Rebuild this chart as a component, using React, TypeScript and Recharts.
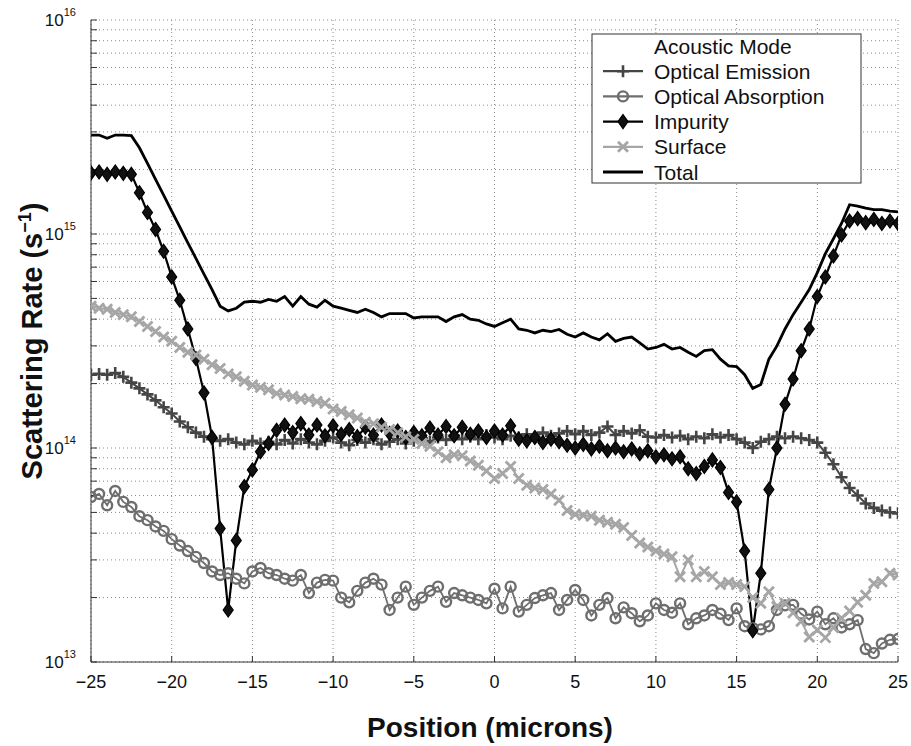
import { LineChart, Line, XAxis, YAxis, CartesianGrid } from 'recharts';

const FONT = '"Liberation Sans", Arial, Helvetica, sans-serif';

// positions along the device, microns (0.5 micron grid)
const positions = Array.from({ length: 101 }, (_, i) => -25 + i * 0.5);

const opticalEmission = [
  2.2e14, 2.22e14, 2.2e14, 2.24e14, 2.15e14, 2.02e14, 1.9e14, 1.78e14, 1.67e14, 1.55e14,
  1.45e14, 1.33e14, 1.25e14, 1.18e14, 1.13e14, 1.1e14, 1.08e14, 1.1e14, 1.06e14, 1.04e14,
  1.08e14, 1.05e14, 1.07e14, 1.04e14, 1.09e14, 1.05e14, 1.1e14, 1.06e14, 1.04e14, 1.08e14,
  1.12e14, 1.06e14, 1.03e14, 1.09e14, 1.06e14, 1.1e14, 1.04e14, 1.07e14, 1.1e14, 1.05e14,
  1.08e14, 1.11e14, 1.07e14, 1.12e14, 1.09e14, 1.14e14, 1.1e14, 1.13e14, 1.1e14, 1.15e14,
  1.12e14, 1.1e14, 1.14e14, 1.12e14, 1.16e14, 1.12e14, 1.18e14, 1.14e14, 1.17e14, 1.2e14,
  1.16e14, 1.2e14, 1.15e14, 1.18e14, 1.26e14, 1.15e14, 1.2e14, 1.17e14, 1.21e14, 1.13e14,
  1.12e14, 1.15e14, 1.12e14, 1.14e14, 1.1e14, 1.13e14, 1.11e14, 1.16e14, 1.12e14, 1.15e14,
  1.1e14, 1.06e14, 1.0e14, 1.07e14, 1.1e14, 1.13e14, 1.11e14, 1.13e14, 1.11e14, 1.09e14,
  1.06e14, 9.5e13, 8.4e13, 7.3e13, 6.5e13, 6.0e13, 5.5e13, 5.25e13, 5.1e13, 5.0e13,
  4.95e13,
];

const opticalAbsorption = [
  5.9e13, 6.1e13, 5.4e13, 6.3e13, 5.6e13, 5.3e13, 4.8e13, 4.6e13, 4.3e13, 4.1e13,
  3.75e13, 3.5e13, 3.3e13, 3.1e13, 2.9e13, 2.65e13, 2.55e13, 2.6e13, 2.45e13, 2.33e13,
  2.65e13, 2.75e13, 2.6e13, 2.55e13, 2.45e13, 2.4e13, 2.55e13, 2.1e13, 2.35e13, 2.42e13,
  2.4e13, 2.0e13, 1.9e13, 2.15e13, 2.35e13, 2.45e13, 2.3e13, 1.75e13, 2.0e13, 2.25e13,
  1.85e13, 2.0e13, 2.15e13, 2.25e13, 1.91e13, 2.1e13, 2.05e13, 2.0e13, 1.95e13, 1.88e13,
  2.2e13, 1.78e13, 2.25e13, 1.72e13, 1.85e13, 1.99e13, 2.05e13, 2.1e13, 1.75e13, 1.95e13,
  2.17e13, 1.95e13, 1.65e13, 1.85e13, 1.99e13, 1.6e13, 1.8e13, 1.69e13, 1.55e13, 1.65e13,
  1.88e13, 1.75e13, 1.7e13, 1.88e13, 1.5e13, 1.6e13, 1.65e13, 1.75e13, 1.68e13, 1.57e13,
  1.78e13, 1.47e13, 1.44e13, 1.42e13, 1.47e13, 1.75e13, 1.84e13, 1.85e13, 1.68e13, 1.58e13,
  1.72e13, 1.5e13, 1.6e13, 1.45e13, 1.5e13, 1.57e13, 1.15e13, 1.1e13, 1.22e13, 1.27e13,
  1.28e13,
];

const impurity = [
  1.93e15, 1.95e15, 1.9e15, 1.95e15, 1.92e15, 1.9e15, 1.56e15, 1.26e15, 1.05e15, 8.3e14,
  6.3e14, 4.9e14, 3.6e14, 2.62e14, 1.81e14, 1.12e14, 4.2e13, 1.75e13, 3.7e13, 6.6e13,
  7.9e13, 9.6e13, 1.05e14, 1.21e14, 1.28e14, 1.18e14, 1.3e14, 1.15e14, 1.28e14, 1.14e14,
  1.27e14, 1.16e14, 1.22e14, 1.13e14, 1.25e14, 1.15e14, 1.28e14, 1.17e14, 1.2e14, 1.12e14,
  1.18e14, 1.14e14, 1.24e14, 1.15e14, 1.26e14, 1.14e14, 1.25e14, 1.16e14, 1.2e14, 1.12e14,
  1.2e14, 1.15e14, 1.27e14, 1.1e14, 1.08e14, 1.12e14, 1.06e14, 1.1e14, 1.07e14, 1.03e14,
  1.0e14, 1.04e14, 9.9e13, 1.02e14, 9.7e13, 1.0e14, 9.6e13, 9.9e13, 9.4e13, 9.7e13,
  9.1e13, 9.3e13, 8.9e13, 9.1e13, 8.0e13, 7.6e13, 8.2e13, 8.8e13, 8.1e13, 6.2e13,
  5.6e13, 3.3e13, 1.4e13, 2.6e13, 6.4e13, 1.0e14, 1.6e14, 2.1e14, 2.85e14, 3.6e14,
  5.1e14, 6.3e14, 7.9e14, 9.9e14, 1.15e15, 1.18e15, 1.13e15, 1.17e15, 1.12e15, 1.15e15,
  1.12e15,
];

const surface = [
  4.6e14, 4.5e14, 4.45e14, 4.3e14, 4.2e14, 4.1e14, 3.9e14, 3.7e14, 3.5e14, 3.3e14,
  3.15e14, 2.95e14, 2.8e14, 2.72e14, 2.6e14, 2.45e14, 2.35e14, 2.22e14, 2.15e14, 2.05e14,
  1.97e14, 1.92e14, 1.87e14, 1.8e14, 1.77e14, 1.74e14, 1.7e14, 1.69e14, 1.65e14, 1.62e14,
  1.52e14, 1.48e14, 1.43e14, 1.38e14, 1.32e14, 1.3e14, 1.25e14, 1.22e14, 1.18e14, 1.13e14,
  1.1e14, 1.05e14, 1.02e14, 9.6e13, 9.0e13, 9.3e13, 9.2e13, 8.7e13, 8.3e13, 7.8e13,
  7.2e13, 7.6e13, 8.2e13, 7.2e13, 6.7e13, 6.5e13, 6.4e13, 6.1e13, 5.7e13, 5.1e13,
  4.9e13, 4.85e13, 4.8e13, 4.6e13, 4.5e13, 4.4e13, 4.25e13, 3.9e13, 3.6e13, 3.45e13,
  3.3e13, 3.2e13, 3.1e13, 2.5e13, 3.0e13, 2.5e13, 2.65e13, 2.5e13, 2.3e13, 2.35e13,
  2.3e13, 2.25e13, 2.0e13, 1.88e13, 2.13e13, 1.81e13, 1.88e13, 1.7e13, 1.55e13, 1.31e13,
  1.41e13, 1.3e13, 1.45e13, 1.6e13, 1.73e13, 1.9e13, 2.05e13, 2.33e13, 2.37e13, 2.6e13,
  2.55e13,
];

const total = [
  2.9e15, 2.9e15, 2.8e15, 2.9e15, 2.9e15, 2.88e15, 2.53e15, 2.14e15, 1.8e15, 1.52e15,
  1.28e15, 1.08e15, 9.1e14, 7.7e14, 6.5e14, 5.5e14, 4.6e14, 4.37e14, 4.5e14, 4.8e14,
  4.85e14, 4.8e14, 4.95e14, 4.85e14, 5.1e14, 4.6e14, 5.1e14, 4.7e14, 4.55e14, 4.9e14,
  4.6e14, 4.5e14, 4.4e14, 4.3e14, 4.45e14, 4.3e14, 4.1e14, 4.25e14, 4.25e14, 4.25e14,
  4.05e14, 4.1e14, 4.1e14, 4.1e14, 3.9e14, 4.1e14, 4.2e14, 4.0e14, 3.95e14, 3.8e14,
  3.7e14, 3.85e14, 4.0e14, 3.6e14, 3.55e14, 3.45e14, 3.55e14, 3.5e14, 3.58e14, 3.4e14,
  3.3e14, 3.45e14, 3.3e14, 3.2e14, 3.42e14, 3.15e14, 3.25e14, 3.3e14, 3.1e14, 2.9e14,
  2.95e14, 3.05e14, 2.9e14, 2.95e14, 2.8e14, 2.68e14, 2.85e14, 2.88e14, 2.6e14, 2.42e14,
  2.4e14, 2.2e14, 1.9e14, 1.98e14, 2.6e14, 3.0e14, 3.6e14, 4.2e14, 4.8e14, 5.5e14,
  6.6e14, 8.1e14, 9.5e14, 1.12e15, 1.37e15, 1.35e15, 1.32e15, 1.3e15, 1.3e15, 1.28e15,
  1.27e15,
];

const xTicks = [-25, -20, -15, -10, -5, 0, 5, 10, 15, 20, 25];
const yDecades = [1e13, 1e14, 1e15, 1e16];
const minorSteps = [2, 3, 4, 5, 6, 7, 8, 9];
const yTicks = [
  ...yDecades.slice(0, 3).flatMap((d) => [d, ...minorSteps.map((m) => m * d)]),
  1e16,
];

const legendNames = ['Acoustic Mode', 'Optical Emission', 'Optical Absorption', 'Impurity', 'Surface', 'Total'];

const rows = positions.map((x, i) => ({
  x,
  emission: opticalEmission[i],
  absorption: opticalAbsorption[i],
  impurity: impurity[i],
  surface: surface[i],
  total: total[i],
}));

const C_EMIS = '#454545';
const C_ABS = '#6e6e6e';
const C_IMP = '#000';
const C_SURF = '#a6a6a6';

function PlusMark({ cx, cy }: any) {
  return <path d={`M${cx - 6},${cy}h12M${cx},${cy - 6}v12`} stroke={C_EMIS} strokeWidth={2.6} fill="none" />;
}
function CircleMark({ cx, cy }: any) {
  return <circle cx={cx} cy={cy} r={5} stroke={C_ABS} strokeWidth={2.4} fill="none" />;
}
function DiamondMark({ cx, cy }: any) {
  return <path d={`M${cx},${cy - 7}L${cx + 5},${cy}L${cx},${cy + 7}L${cx - 5},${cy}Z`} fill="#111" stroke="#000" strokeWidth={1.2} />;
}
function CrossMark({ cx, cy }: any) {
  return <path d={`M${cx - 5},${cy - 5}l10,10M${cx + 5},${cy - 5}l-10,10`} stroke={C_SURF} strokeWidth={2.8} fill="none" />;
}

function YTick({ x, y, payload }: any) {
  const e = Math.log10(payload.value);
  if (Math.abs(e - Math.round(e)) > 1e-6) return <g />;
  return (
    <text x={x} y={y + 6} textAnchor="end" fontFamily={FONT} fill="#111">
      <tspan fontSize={17}>10</tspan>
      <tspan fontSize={11} dy={-10}>{Math.round(e)}</tspan>
    </text>
  );
}

const fmtX = (v: number) => (v < 0 ? `\u2212${-v}` : `${v}`);

function Legend() {
  const top = 34;
  const rowY = (i: number) => 46 + i * 25.2;
  return (
    <g fontFamily={FONT}>
      <rect x={592} y={top} width={269} height={149} fill="#fff" stroke="#333" strokeWidth={1} />
      {legendNames.map((n, i) => (
        <text key={n} x={654} y={rowY(i) + 7.5} fontSize={21} fill="#111">{n}</text>
      ))}
      <line x1={603} x2={643} y1={rowY(1)} y2={rowY(1)} stroke={C_EMIS} strokeWidth={2.2} />
      <PlusMark cx={623} cy={rowY(1)} />
      <line x1={603} x2={643} y1={rowY(2)} y2={rowY(2)} stroke={C_ABS} strokeWidth={2.2} />
      <CircleMark cx={623} cy={rowY(2)} />
      <line x1={603} x2={643} y1={rowY(3)} y2={rowY(3)} stroke={C_IMP} strokeWidth={2.4} />
      <DiamondMark cx={623} cy={rowY(3)} />
      <line x1={603} x2={643} y1={rowY(4)} y2={rowY(4)} stroke={C_SURF} strokeWidth={2.2} />
      <CrossMark cx={623} cy={rowY(4)} />
      <line x1={603} x2={643} y1={rowY(5)} y2={rowY(5)} stroke="#000" strokeWidth={2.8} />
    </g>
  );
}

export default function App() {
  return (
    <div style={{ position: 'absolute', left: 0, top: 0, width: 911, height: 746, background: '#fff' }}>
      <LineChart width={911} height={746} data={rows} margin={{ top: 20, right: 13, left: 0, bottom: 0 }}>
        <CartesianGrid stroke="#8a8a8a" strokeDasharray="1 3" strokeWidth={1} />
        <XAxis
          dataKey="x"
          type="number"
          domain={[-25, 25]}
          ticks={xTicks}
          tickFormatter={fmtX}
          height={84}
          tickSize={-6}
          tickMargin={19}
          stroke="#333"
          tick={{ fontSize: 18, fill: '#111', fontFamily: FONT }}
          allowDataOverflow
        />
        <XAxis xAxisId="top" orientation="top" dataKey="x" type="number" domain={[-25, 25]} ticks={xTicks} height={0} tickSize={-6} tick={false} stroke="#333" allowDataOverflow />
        <YAxis
          type="number"
          scale="log"
          domain={[1e13, 1e16]}
          ticks={yTicks}
          width={91}
          tickSize={-6}
          tickMargin={21}
          stroke="#333"
          tick={<YTick />}
          interval={0}
          allowDataOverflow
        />
        <YAxis yAxisId="r" orientation="right" type="number" scale="log" domain={[1e13, 1e16]} ticks={yTicks} width={0} tickSize={-6} tick={false} interval={0} stroke="#333" allowDataOverflow />
        <Line dataKey="emission" stroke={C_EMIS} strokeWidth={2} dot={(p: any) => <PlusMark key={p.index} cx={p.cx} cy={p.cy} />} activeDot={false} isAnimationActive={false} />
        <Line dataKey="absorption" stroke={C_ABS} strokeWidth={1.8} dot={(p: any) => <CircleMark key={p.index} cx={p.cx} cy={p.cy} />} activeDot={false} isAnimationActive={false} />
        <Line dataKey="impurity" stroke={C_IMP} strokeWidth={2.2} dot={(p: any) => <DiamondMark key={p.index} cx={p.cx} cy={p.cy} />} activeDot={false} isAnimationActive={false} />
        <Line dataKey="surface" stroke={C_SURF} strokeWidth={2} dot={(p: any) => <CrossMark key={p.index} cx={p.cx} cy={p.cy} />} activeDot={false} isAnimationActive={false} />
        <Line dataKey="total" stroke="#000" strokeWidth={2.8} dot={false} activeDot={false} isAnimationActive={false} />
      </LineChart>
      <svg width={911} height={746} style={{ position: 'absolute', left: 0, top: 0, pointerEvents: 'none' }}>
        <Legend />
        <text x={490} y={737} textAnchor="middle" fontFamily={FONT} fontWeight="bold" fontSize={28} fill="#111">
          Position (microns)
        </text>
        <text transform="translate(42,341) rotate(-90)" textAnchor="middle" fontFamily={FONT} fontWeight="bold" fontSize={29} fill="#111">
          Scattering Rate (s<tspan fontSize={18} dy={-11}>{'\u22121'}</tspan><tspan dy={11}>)</tspan>
        </text>
      </svg>
    </div>
  );
}
